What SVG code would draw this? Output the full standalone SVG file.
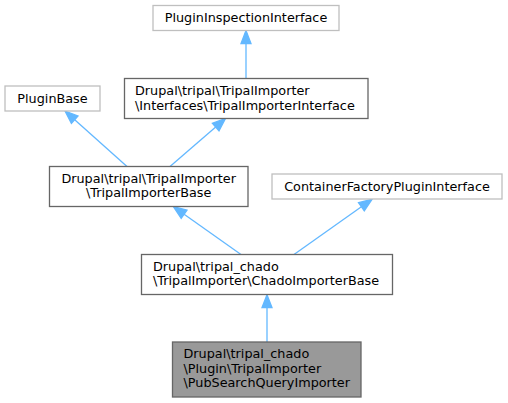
<svg xmlns="http://www.w3.org/2000/svg" width="508" height="403" viewBox="0 0 508 403">
<style>
text{font-family:"DejaVu Sans","Liberation Sans",sans-serif;font-size:12.8px;fill:#000}
.ext{fill:#fff;stroke:#bfbfbf;stroke-width:1.3}
.int{fill:#fff;stroke:#666666;stroke-width:1.3}
.cur{fill:#999999;stroke:#666666;stroke-width:1.3}
.mid{text-anchor:middle}
.edge line{stroke:#63b8ff;stroke-width:1.3}
.edge polygon{fill:#63b8ff;stroke:#63b8ff;stroke-width:1.3}
</style>
<rect width="508" height="403" fill="#fff"/>
<g id="edges" class="edge">
<line x1="267" y1="342" x2="267" y2="307.7"/>
<polygon points="267,294.7 262,307.7 272,307.7"/>
<line x1="241" y1="254.5" x2="184.1" y2="214.2"/>
<polygon points="173.5,206.7 187,210.1 181.2,218.3"/>
<line x1="294" y1="254.5" x2="361.4" y2="206.8"/>
<polygon points="372,199.3 364.3,210.9 358.5,202.7"/>
<line x1="127" y1="166.5" x2="74.7" y2="119.7"/>
<polygon points="65,111 78,116 71.4,123.4"/>
<line x1="170" y1="166.5" x2="215.7" y2="127"/>
<polygon points="225.5,118.5 219,130.8 212.4,123.2"/>
<line x1="246" y1="78.5" x2="246" y2="43.5"/>
<polygon points="246,30.5 241,43.5 251,43.5"/>
</g>
<g id="PluginInspectionInterface">
<rect class="ext" x="153" y="5.5" width="186" height="25"/>
<text class="mid" x="246" y="21.5">PluginInspectionInterface</text>
</g>
<g id="TripalImporterInterface">
<rect class="int" x="124.5" y="78.5" width="243.5" height="40"/>
<text x="135" y="94.5">Drupal\tripal\TripalImporter</text>
<text x="135" y="109.5">\Interfaces\TripalImporterInterface</text>
</g>
<g id="PluginBase">
<rect class="ext" x="5" y="86" width="95" height="25"/>
<text class="mid" x="52.5" y="102.5">PluginBase</text>
</g>
<g id="TripalImporterBase">
<rect class="int" x="49.5" y="166.5" width="198.5" height="40"/>
<text class="mid" x="148.7" y="182.5">Drupal\tripal\TripalImporter</text>
<text class="mid" x="148.7" y="197">\TripalImporterBase</text>
</g>
<g id="ContainerFactoryPluginInterface">
<rect class="ext" x="272" y="174" width="230" height="25"/>
<text class="mid" x="387" y="190.5">ContainerFactoryPluginInterface</text>
</g>
<g id="ChadoImporterBase">
<rect class="int" x="141.5" y="254.5" width="251" height="40"/>
<text x="153" y="270.5">Drupal\tripal_chado</text>
<text x="153" y="285">\TripalImporter\ChadoImporterBase</text>
</g>
<g id="PubSearchQueryImporter">
<rect class="cur" x="172.5" y="342" width="188.5" height="55"/>
<text x="183.5" y="358.3">Drupal\tripal_chado</text>
<text x="183.5" y="372.7">\Plugin\TripalImporter</text>
<text x="183.5" y="387.1">\PubSearchQueryImporter</text>
</g>
</svg>
